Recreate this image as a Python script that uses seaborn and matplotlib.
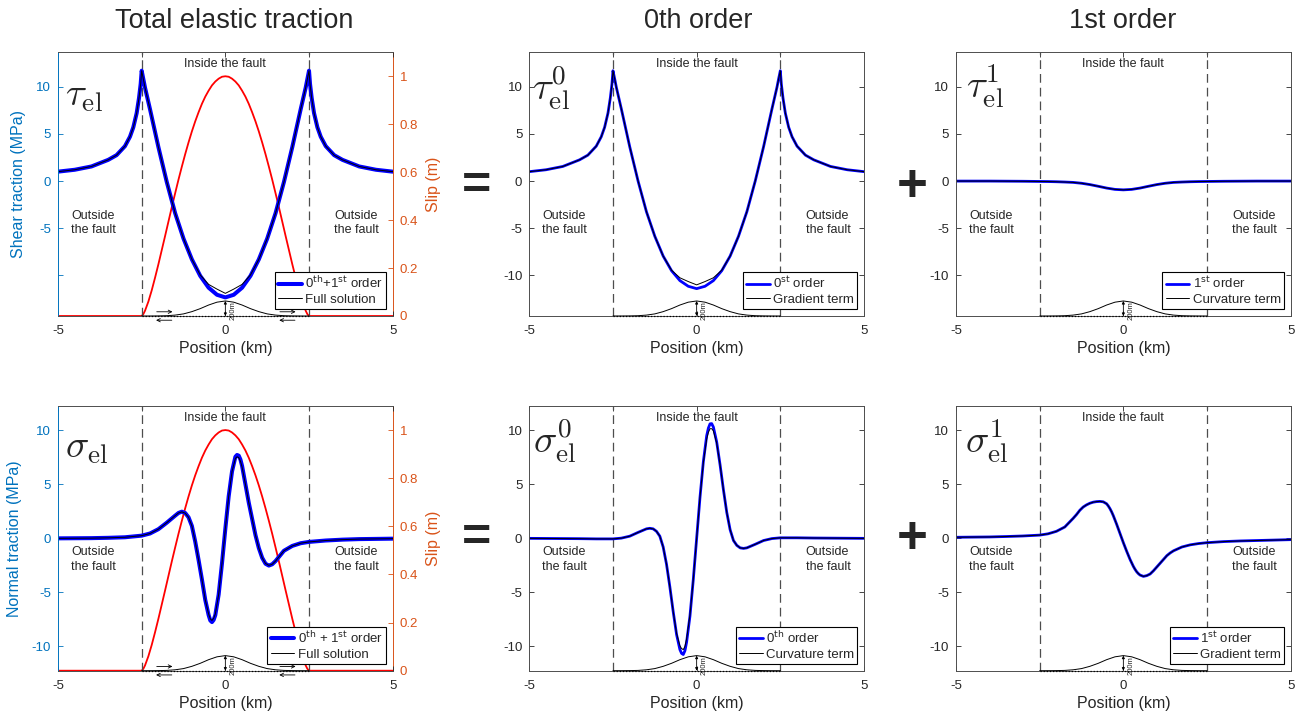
import numpy as np
import matplotlib
matplotlib.use('Agg')
import matplotlib.pyplot as plt
import seaborn as sns

sns.set_style('ticks')
plt.rcParams['font.family'] = ['Liberation Sans', 'DejaVu Sans']
plt.rcParams['mathtext.fontset'] = 'dejavusans'

# ---------------- data ----------------
# position along the fault (km)
x_tau = [-5, -4.5, -4, -3.5, -3.25, -3, -2.85, -2.75, -2.65, -2.58, -2.53, -2.5, -2.45, -2.4,
         -2.25, -2, -1.75, -1.5, -1.25, -1, -0.75, -0.5, -0.25, 0,
         0.25, 0.5, 0.75, 1, 1.25, 1.5, 1.75, 2, 2.25, 2.4, 2.45, 2.5,
         2.53, 2.58, 2.65, 2.75, 2.85, 3, 3.25, 3.5, 4, 4.5, 5]
# shear traction (MPa)
tau_total = [1.0, 1.2, 1.55, 2.25, 2.75, 3.7, 4.7, 5.7, 7.2, 8.8, 10.3, 11.7, 10.8, 9.9,
             7.6, 3.6, -0.1, -3.4, -6.1, -8.3, -10.05, -11.3, -12.05, -12.33,
             -12.05, -11.3, -10.05, -8.3, -6.1, -3.4, -0.1, 3.6, 7.6, 9.9, 10.8, 11.7,
             10.3, 8.8, 7.2, 5.7, 4.7, 3.7, 2.75, 2.25, 1.55, 1.2, 1.0]
tau_full = [1.0, 1.2, 1.55, 2.25, 2.75, 3.7, 4.7, 5.7, 7.2, 8.8, 10.3, 11.7, 10.8, 9.9,
            7.6, 3.6, -0.1, -3.4, -6.1, -8.3, -9.95, -10.95, -11.45, -11.9,
            -11.45, -10.95, -9.95, -8.3, -6.1, -3.4, -0.1, 3.6, 7.6, 9.9, 10.8, 11.7,
            10.3, 8.8, 7.2, 5.7, 4.7, 3.7, 2.75, 2.25, 1.55, 1.2, 1.0]
tau0 = [1.0, 1.2, 1.55, 2.25, 2.75, 3.7, 4.7, 5.7, 7.2, 8.8, 10.3, 11.7, 10.85, 9.95,
        7.65, 3.65, 0.0, -3.25, -5.85, -7.95, -9.5, -10.55, -11.15, -11.4,
        -11.15, -10.55, -9.5, -7.95, -5.85, -3.25, 0.0, 3.65, 7.65, 9.95, 10.85, 11.7,
        10.3, 8.8, 7.2, 5.7, 4.7, 3.7, 2.75, 2.25, 1.55, 1.2, 1.0]
tau0_grad = [1.0, 1.2, 1.55, 2.25, 2.75, 3.7, 4.7, 5.7, 7.2, 8.8, 10.3, 11.7, 10.85, 9.95,
             7.65, 3.65, 0.0, -3.25, -5.85, -7.95, -9.45, -10.25, -10.65, -11.0,
             -10.65, -10.25, -9.45, -7.95, -5.85, -3.25, 0.0, 3.65, 7.65, 9.95, 10.85, 11.7,
             10.3, 8.8, 7.2, 5.7, 4.7, 3.7, 2.75, 2.25, 1.55, 1.2, 1.0]

x_t1 = [-5, -4, -3.5, -3, -2.5, -2.25, -2, -1.75, -1.5, -1.25, -1, -0.75, -0.5, -0.25, 0,
        0.25, 0.5, 0.75, 1, 1.25, 1.5, 1.75, 2, 2.25, 2.5, 3, 3.5, 4, 5]
tau1 = [0.0, 0.0, -0.01, -0.02, -0.04, -0.05, -0.07, -0.1, -0.14, -0.23, -0.37, -0.55, -0.74, -0.88, -0.93,
        -0.88, -0.74, -0.55, -0.37, -0.23, -0.14, -0.1, -0.07, -0.05, -0.04, -0.02, -0.01, 0.0, 0.0]

x_sig = [-5, -4, -3.5, -3, -2.5, -2.25, -2, -1.75, -1.5, -1.4, -1.3, -1.2, -1.1, -1.0,
         -0.9, -0.8, -0.7, -0.6, -0.5, -0.45, -0.4, -0.35, -0.3, -0.2, -0.1, 0,
         0.1, 0.2, 0.3, 0.35, 0.4, 0.45, 0.5, 0.6, 0.7, 0.8, 0.9, 1.0, 1.1, 1.2, 1.3, 1.4, 1.5,
         1.75, 2, 2.25, 2.5, 3, 3.5, 4, 5]
# normal traction (MPa)
sig_total = [0.0, 0.02, 0.05, 0.1, 0.25, 0.45, 0.85, 1.45, 2.1, 2.35, 2.47, 2.35, 1.95, 1.15,
             -0.3, -2.0, -3.8, -5.7, -7.1, -7.6, -7.75, -7.55, -7.1, -5.2, -2.3, 0.9,
             3.9, 6.2, 7.55, 7.72, 7.65, 7.3, 6.7, 5.0, 3.3, 1.8, 0.3, -0.9, -1.8, -2.35, -2.52, -2.4, -2.1,
             -1.15, -0.7, -0.45, -0.33, -0.2, -0.12, -0.07, -0.03]
sig_full = [0.0, 0.02, 0.05, 0.1, 0.25, 0.45, 0.85, 1.45, 2.1, 2.35, 2.45, 2.33, 1.95, 1.15,
            -0.3, -2.0, -3.8, -5.7, -7.0, -7.45, -7.6, -7.4, -7.0, -5.2, -2.3, 0.9,
            3.9, 6.2, 7.4, 7.55, 7.48, 7.15, 6.6, 5.0, 3.3, 1.8, 0.3, -0.9, -1.8, -2.33, -2.5, -2.4, -2.1,
            -1.15, -0.7, -0.45, -0.33, -0.2, -0.12, -0.07, -0.03]
sig0 = [0.0, -0.02, -0.03, -0.05, -0.05, 0.02, 0.2, 0.55, 0.88, 0.93, 0.88, 0.65, 0.2, -0.8,
        -2.4, -4.5, -6.8, -8.9, -10.3, -10.65, -10.75, -10.4, -9.6, -7.2, -3.8, 0.0,
        3.8, 7.1, 9.5, 10.2, 10.6, 10.62, 10.3, 8.9, 6.8, 4.5, 2.4, 0.8, -0.2, -0.65, -0.88, -0.93, -0.88,
        -0.55, -0.2, -0.02, 0.05, 0.05, 0.03, 0.02, 0.0]
sig0_curv = [0.0, -0.02, -0.03, -0.05, -0.05, 0.02, 0.2, 0.55, 0.88, 0.93, 0.88, 0.65, 0.2, -0.8,
             -2.4, -4.5, -6.8, -8.8, -9.95, -10.2, -10.3, -10.0, -9.3, -7.1, -3.8, 0.0,
             3.8, 7.0, 9.2, 9.8, 10.15, 10.15, 9.95, 8.8, 6.8, 4.5, 2.4, 0.8, -0.2, -0.65, -0.88, -0.93, -0.88,
             -0.55, -0.2, -0.02, 0.05, 0.05, 0.03, 0.02, 0.0]
sig1 = [0.1, 0.13, 0.17, 0.22, 0.3, 0.42, 0.65, 1.05, 1.85, 2.2, 2.6, 2.9, 3.1, 3.25,
        3.35, 3.4, 3.42, 3.38, 3.2, 3.0, 2.75, 2.45, 2.1, 1.3, 0.45, -0.4,
        -1.2, -1.95, -2.6, -2.87, -3.1, -3.27, -3.4, -3.52, -3.45, -3.3, -3.0, -2.65, -2.3, -1.95, -1.6, -1.35, -1.15,
        -0.8, -0.6, -0.48, -0.4, -0.3, -0.24, -0.2, -0.12]

# slip (m)
x_slip = [-5, -2.5, -2.45, -2.4, -2.3, -2.2, -2.1, -2, -1.9, -1.8, -1.7, -1.6, -1.5, -1.4, -1.3,
          -1.2, -1.1, -1, -0.9, -0.8, -0.7, -0.6, -0.5, -0.4, -0.3, -0.2, -0.1, 0,
          0.1, 0.2, 0.3, 0.4, 0.5, 0.6, 0.7, 0.8, 0.9, 1, 1.1, 1.2, 1.3, 1.4, 1.5, 1.6,
          1.7, 1.8, 1.9, 2, 2.1, 2.2, 2.3, 2.4, 2.45, 2.5, 5]
slip = [0, 0, 0.008, 0.022, 0.06, 0.107, 0.16, 0.216, 0.275, 0.334, 0.394, 0.454, 0.512, 0.569, 0.623,
        0.675, 0.724, 0.77, 0.812, 0.85, 0.885, 0.915, 0.94, 0.962, 0.978, 0.99, 0.998, 1.0,
        0.998, 0.99, 0.978, 0.962, 0.94, 0.915, 0.885, 0.85, 0.812, 0.77, 0.724, 0.675, 0.623, 0.569, 0.512, 0.454,
        0.394, 0.334, 0.275, 0.216, 0.16, 0.107, 0.06, 0.022, 0.008, 0, 0]

# fault topography (relative height, peak = 200 m)
x_bump = [-2.5, -2.25, -2, -1.75, -1.5, -1.25, -1, -0.75, -0.5, -0.25, 0,
          0.25, 0.5, 0.75, 1, 1.25, 1.5, 1.75, 2, 2.25, 2.5]
bump = [0, 0.002, 0.007, 0.02, 0.06, 0.14, 0.29, 0.49, 0.73, 0.92, 1.0,
        0.92, 0.73, 0.49, 0.29, 0.14, 0.06, 0.02, 0.007, 0.002, 0]

fault_edge = 2.5

# ---------------- figure ----------------
W, H = 1298, 717
BLUE_AX = '#0072BD'
ORANGE = '#D95319'
TXT_FONT = ['Liberation Sans Narrow', 'Liberation Sans', 'DejaVu Sans']

fig = plt.figure(figsize=(W / 100, H / 100), dpi=100)

cols = [58, 529.3, 956]
rows = [(52.3, 316), (406, 670.7)]
pw = 334.7


def make_ax(c, r):
    top, bot = rows[r]
    return fig.add_axes([cols[c] / W, 1 - bot / H, pw / W, (bot - top) / H])


def decorate(ax, ylim, tick_labels, big_label, lab_pos, out_y, legend_lines, legend_labels, twin=False):
    ax.set_xlim(-5, 5)
    ax.set_ylim(ylim)
    ax.set_xticks([-5, -2.5, 0, 2.5, 5])
    ax.set_xticklabels(['-5', '', '0', '', '5'])
    ax.set_yticks([-10, -5, 0, 5, 10])
    ax.set_yticklabels(tick_labels)
    ax.tick_params(direction='in', length=3.5, width=0.6, top=True, right=not twin,
                   labelsize=9.5, colors='0.15', pad=5)
    ax.tick_params(axis='x', pad=6.5)
    for s in ax.spines.values():
        s.set_color('0.3')
        s.set_linewidth(0.7)
    for xv in (-fault_edge, fault_edge):
        ax.axvline(xv, color='0.3', ls=(0, (7, 4)), lw=0.9, zorder=1)
    ax.text(0.5, 0.955, 'Inside the fault', transform=ax.transAxes, ha='center', va='center',
            fontsize=9, family=TXT_FONT)
    ax.text(0.039, out_y, 'Outside\nthe fault', transform=ax.transAxes, ha='left', va='center',
            fontsize=9, family=TXT_FONT, linespacing=1.25)
    ax.text(0.8255, out_y, 'Outside\nthe fault', transform=ax.transAxes, ha='left', va='center',
            fontsize=9, family=TXT_FONT, linespacing=1.25)
    ax.text(lab_pos[0], lab_pos[1], big_label, transform=ax.transAxes, ha='left', va='center',
            fontsize=28, math_fontfamily='cm')
    # topography
    ymin = ylim[0]
    bh = 0.057 * (ylim[1] - ylim[0])
    yb = [ymin + bh * b for b in bump]
    sns.lineplot(x=x_bump, y=yb, ax=ax, color='k', lw=0.7, estimator=None)
    ax.lines[-1].set_clip_on(False)
    ax.hlines(ymin, -fault_edge, fault_edge, colors='k', linestyles=(0, (1, 1.5)), lw=0.9,
              clip_on=False, zorder=3)
    ax.annotate('', xy=(0, ymin), xytext=(0, ymin + bh),
                arrowprops=dict(arrowstyle='<|-|>', lw=0.6, color='k', shrinkA=0, shrinkB=0,
                                mutation_scale=4), annotation_clip=False)
    ax.text(0.12, ymin + 0.35 * bh, '200m', rotation=90, fontsize=5.5, ha='left', va='center')
    ax.set_xlabel('Position (km)', fontsize=11.5, color='0.15', labelpad=3)
    ax.set_ylabel('')
    leg = ax.legend(legend_lines, legend_labels, loc='lower right', fontsize=9.5, frameon=True,
                    fancybox=False, edgecolor='k', framealpha=1, borderaxespad=0.5,
                    handlelength=1.8, borderpad=0.25, labelspacing=0.2, handletextpad=0.25)
    leg.get_frame().set_linewidth(0.8)
    leg.set_zorder(10)


def shear_arrows(ax):
    tr = ax.get_xaxis_transform()
    for x0 in (-2.05, 1.63):
        ax.annotate('', xy=(x0 + 0.47, 0.016), xytext=(x0, 0.016), xycoords=tr, textcoords=tr,
                    arrowprops=dict(arrowstyle='->', lw=0.6, color='k', shrinkA=0, shrinkB=0,
                                    mutation_scale=6), annotation_clip=False)
        ax.annotate('', xy=(x0 - 0.02, -0.016), xytext=(x0 + 0.45, -0.016), xycoords=tr, textcoords=tr,
                    arrowprops=dict(arrowstyle='->', lw=0.6, color='k', shrinkA=0, shrinkB=0,
                                    mutation_scale=6), annotation_clip=False)


def slip_axis(ax, ylabel_txt):
    ax2 = ax.twinx()
    sns.lineplot(x=x_slip, y=slip, ax=ax2, color='red', lw=1.3, estimator=None)
    ax2.set_ylim(0, 1.1)
    ax2.set_yticks([0, 0.2, 0.4, 0.6, 0.8, 1])
    ax2.set_yticklabels(['0', '0.2', '0.4', '0.6', '0.8', '1'])
    ax2.tick_params(direction='in', length=3.5, width=0.6, colors=ORANGE, labelsize=9.5, pad=5)
    ax2.set_ylabel('Slip (m)', color=ORANGE, fontsize=11.5, labelpad=6)
    for k in ('left', 'top', 'bottom'):
        ax2.spines[k].set_visible(False)
    ax2.spines['right'].set_color(ORANGE)
    ax2.spines['right'].set_linewidth(0.7)
    ax.set_zorder(ax2.get_zorder() + 1)
    ax.patch.set_visible(False)
    ax.spines['right'].set_visible(False)
    ax.spines['left'].set_color(BLUE_AX)
    ax.tick_params(axis='y', colors=BLUE_AX)
    ax.set_ylabel(ylabel_txt, color=BLUE_AX, fontsize=11.5, labelpad=7)
    return ax2


ylim_top = (-14.3, 13.65)
ylim_bot = (-12.25, 12.25)
lab_all = ['-10', '-5', '0', '5', '10']

# --- top-left: total shear ---
ax = make_ax(0, 0)
sns.lineplot(x=x_tau, y=tau_total, ax=ax, color='blue', lw=2.9, estimator=None)
lb = ax.lines[-1]
sns.lineplot(x=x_tau, y=tau_full, ax=ax, color='k', lw=0.7, estimator=None)
lk = ax.lines[-1]
decorate(ax, ylim_top, ['', '-5', '0', '5', '10'], r'$\tau_{\rm el}$', (0.022, 0.836), 0.353,
         [lb, lk], [r'0$^{\rm th}$+1$^{\rm st}$ order', 'Full solution'], twin=True)
slip_axis(ax, 'Shear traction (MPa)')
shear_arrows(ax)

# --- top-middle ---
ax = make_ax(1, 0)
sns.lineplot(x=x_tau, y=tau0, ax=ax, color='blue', lw=2.0, estimator=None)
lb = ax.lines[-1]
sns.lineplot(x=x_tau, y=tau0_grad, ax=ax, color='k', lw=0.7, estimator=None)
lk = ax.lines[-1]
decorate(ax, ylim_top, lab_all, r'$\tau_{\rm el}^{0}$', (0.008, 0.865), 0.353,
         [lb, lk], [r'0$^{\rm st}$ order', 'Gradient term'])

# --- top-right ---
ax = make_ax(2, 0)
sns.lineplot(x=x_t1, y=tau1, ax=ax, color='blue', lw=2.0, estimator=None)
lb = ax.lines[-1]
sns.lineplot(x=x_t1, y=tau1, ax=ax, color='k', lw=0.7, estimator=None)
lk = ax.lines[-1]
decorate(ax, ylim_top, lab_all, r'$\tau_{\rm el}^{1}$', (0.03, 0.87), 0.353,
         [lb, lk], [r'1$^{\rm st}$ order', 'Curvature term'])

# --- bottom-left: total normal ---
ax = make_ax(0, 1)
sns.lineplot(x=x_sig, y=sig_total, ax=ax, color='blue', lw=2.9, estimator=None)
lb = ax.lines[-1]
sns.lineplot(x=x_sig, y=sig_full, ax=ax, color='k', lw=0.7, estimator=None)
lk = ax.lines[-1]
decorate(ax, ylim_bot, lab_all, r'$\sigma_{\rm el}$', (0.021, 0.843), 0.42,
         [lb, lk], [r'0$^{\rm th}$ + 1$^{\rm st}$ order', 'Full solution'], twin=True)
slip_axis(ax, 'Normal traction (MPa)')
shear_arrows(ax)

# --- bottom-middle ---
ax = make_ax(1, 1)
sns.lineplot(x=x_sig, y=sig0, ax=ax, color='blue', lw=2.0, estimator=None)
lb = ax.lines[-1]
sns.lineplot(x=x_sig, y=sig0_curv, ax=ax, color='k', lw=0.7, estimator=None)
lk = ax.lines[-1]
decorate(ax, ylim_bot, lab_all, r'$\sigma_{\rm el}^{0}$', (0.01, 0.87), 0.42,
         [lb, lk], [r'0$^{\rm th}$ order', 'Curvature term'])

# --- bottom-right ---
ax = make_ax(2, 1)
sns.lineplot(x=x_sig, y=sig1, ax=ax, color='blue', lw=2.0, estimator=None)
lb = ax.lines[-1]
sns.lineplot(x=x_sig, y=sig1, ax=ax, color='k', lw=0.7, estimator=None)
lk = ax.lines[-1]
decorate(ax, ylim_bot, lab_all, r'$\sigma_{\rm el}^{1}$', (0.027, 0.866), 0.42,
         [lb, lk], [r'1$^{\rm st}$ order', 'Gradient term'])

# column titles and operators
for xc, t in ((234, 'Total elastic traction'), (698, '0th order'), (1123, '1st order')):
    fig.text(xc / W, 1 - 21 / H, t, ha='center', va='center', fontsize=19.5, family=TXT_FONT)
for yc in (187, 539):
    fig.text(476.7 / W, 1 - yc / H, '=', ha='center', va='center', fontsize=36, fontweight='bold')
    fig.text(912 / W, 1 - yc / H, '+', ha='center', va='center', fontsize=38, fontweight='bold')

fig.savefig('out.png', dpi=100)
